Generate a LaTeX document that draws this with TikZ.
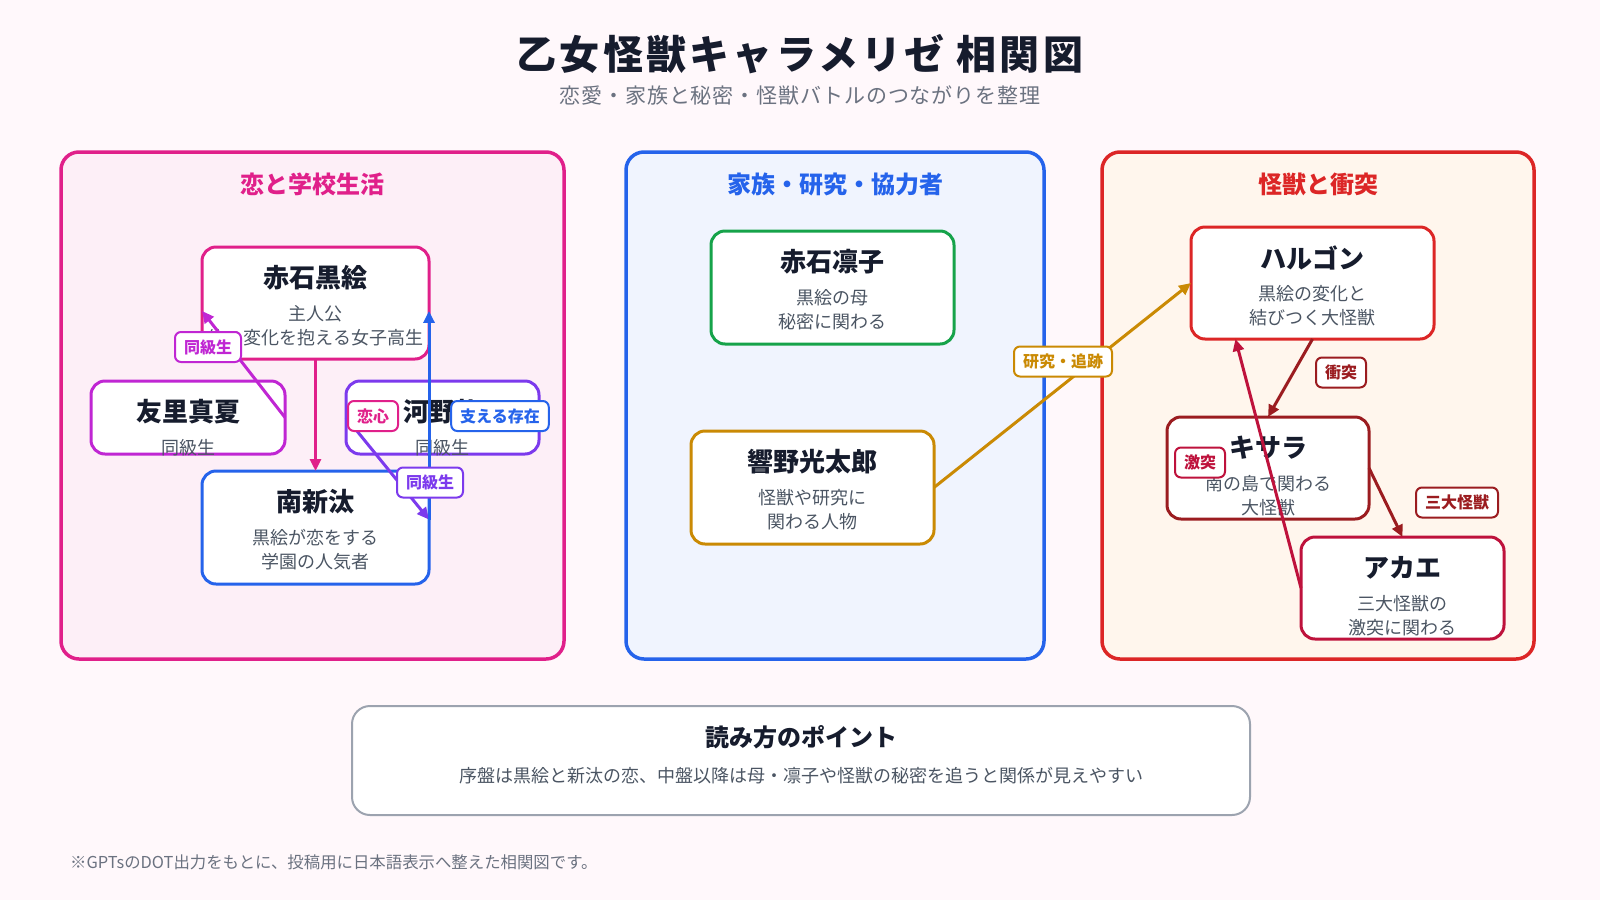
\documentclass[tikz,border=0pt]{standalone}
\usepackage{fontspec}
\setmainfont{Noto Sans CJK JP}
\newfontfamily\titelschrift{Noto Sans CJK JP}[LetterSpace=8]
\newfontfamily\unterschrift{Noto Sans CJK JP}[LetterSpace=4]
\usetikzlibrary{arrows.meta}
\definecolor{hintergrund}{RGB}{255,248,251}
\definecolor{rosa}{RGB}{224,32,138}
\definecolor{lila}{RGB}{192,38,211}
\definecolor{violett}{RGB}{124,58,237}
\definecolor{blau}{RGB}{37,99,235}
\definecolor{gruen}{RGB}{22,163,74}
\definecolor{gold}{RGB}{202,138,4}
\definecolor{rot}{RGB}{220,38,38}
\definecolor{dunkelrot}{RGB}{155,28,32}
\definecolor{karmin}{RGB}{190,18,60}
\definecolor{tinte}{RGB}{22,28,45}
\definecolor{textgrau}{RGB}{75,85,99}
\definecolor{hellgrau}{RGB}{107,114,128}
\definecolor{randgrau}{RGB}{156,163,175}
\tikzset{%
		gruppe/.style={line width=3.5pt,rounded corners=18pt},
		gruppentitel/.style={font=\bfseries\fontsize{24}{24}\selectfont},
		figur/.style={draw,line width=3pt,rounded corners=14pt,fill=white,inner sep=0pt,outer sep=0pt},
		rufname/.style={text=tinte,font=\bfseries\fontsize{26}{26}\selectfont},
		zeile/.style={text=textgrau,font=\fontsize{18}{18}\selectfont},
		marke/.style={draw=#1,text=#1,fill=white,line width=2pt,rounded corners=6pt,font=\bfseries\fontsize{16}{16}\selectfont,inner xsep=9pt,inner ysep=0pt,minimum height=30pt},
		pfeil/.style={draw=#1,line width=3pt,-{Triangle[length=12pt,width=11pt]}}
	}
\newcommand{\figur}[9]{
		\node[figur,draw=#2,minimum width=#5pt,minimum height=#6pt] (#1) at (#3,#4) {};
		\node[rufname] (#1-name) at ([yshift=-31pt]#1.north) {#7};
		\node[zeile] (#1-z1) at ([yshift=-66.5pt]#1.north) {#8};
		\node[zeile] (#1-z2) at ([yshift=-90.5pt]#1.north) {#9};
	}

\begin{document}
\begin{tikzpicture}[x=1pt,y=-1pt]
      \fill[hintergrund] (0,0) rectangle (1600,900);
      \node[text=tinte,font=\titelschrift\bfseries\fontsize{40}{40}\selectfont] (titel) at (800,54) {乙女怪獣キャラメリゼ 相関図};
      \node[text=hellgrau,font=\unterschrift\fontsize{21}{21}\selectfont] (untertitel) at (800,96) {恋愛・家族と秘密・怪獣バトルのつながりを整理};

      \begin{scope}
        \filldraw[gruppe,draw=rosa,fill=rosa!7] (61,152) rectangle (564,659);
        \node[gruppentitel,text=rosa] (schule) at (312.5,184) {恋と学校生活};
      \end{scope}
      \begin{scope}
        \filldraw[gruppe,draw=blau,fill=blau!7] (626,152) rectangle (1044,659);
        \node[gruppentitel,text=blau] (familie) at (835,184) {家族・研究・協力者};
      \end{scope}
      \begin{scope}
        \filldraw[gruppe,draw=rot,fill=orange!7] (1102,152) rectangle (1534,659);
        \node[gruppentitel,text=rot] (kaiju) at (1318,184) {怪獣と衝突};
      \end{scope}

      \figur{kuroe}{rosa}{315.5}{303}{227}{112}{赤石黒絵}{主人公}{体の変化を抱える女子高生}
      \figur{manatsu}{lila}{188}{417.5}{194}{73}{友里真夏}{同級生}{}
      \figur{kono}{violett}{442.5}{417.5}{193}{73}{河野礼}{同級生}{}
      \figur{arata}{blau}{315.5}{527.5}{227}{113}{南新汰}{黒絵が恋をする}{学園の人気者}
      \figur{rinko}{gruen}{832.5}{287.5}{243}{113}{赤石凛子}{黒絵の母}{秘密に関わる}
      \figur{kotaro}{gold}{812.5}{487.5}{243}{113}{響野光太郎}{怪獣や研究に}{関わる人物}
      \figur{halgon}{rot}{1312.5}{283}{243}{112}{ハルゴン}{黒絵の変化と}{結びつく大怪獣}
      \figur{kisara}{dunkelrot}{1268}{468}{202}{102}{キサラ}{南の島で関わる}{大怪獣}
      \figur{akae}{karmin}{1402.5}{588}{203}{102}{アカエ}{三大怪獣の}{激突に関わる}

      \draw[pfeil=lila] (manatsu.east) -- (kuroe.184);
      \draw[pfeil=rosa] (kuroe.south) -- (arata.north);
      \draw[pfeil=violett] (kono.west) -- (arata.4);
      \draw[pfeil=blau] (arata.4) -- (kuroe.-4);
      \draw[pfeil=gold] (kotaro.east) -- (halgon.west);
      \draw[pfeil=dunkelrot] (halgon.south) -- (kisara.north);
      \draw[pfeil=dunkelrot] (kisara.east) -- (akae.north);
      \draw[pfeil=karmin] (akae.west) -- (halgon.216);

      \node[marke=lila] (m-manatsu) at (208,347) {同級生};
      \node[marke=rosa] (m-koi) at (373,416) {恋心};
      \node[marke=blau] (m-stuetze) at (500,416) {支える存在};
      \node[marke=violett] (m-kono) at (430,482.5) {同級生};
      \node[marke=gold] (m-forschung) at (1063,361.5) {研究・追跡};
      \node[marke=dunkelrot] (m-konflikt) at (1341,372.5) {衝突};
      \node[marke=dunkelrot] (m-drei) at (1457,502.5) {三大怪獣};
      \node[marke=karmin] (m-kampf) at (1200,462.5) {激突};

      \filldraw[draw=randgrau,fill=white,line width=2pt,rounded corners=18pt] (352,706) rectangle (1250,815);
      \node[text=tinte,font=\bfseries\fontsize{24}{24}\selectfont] (lesart) at (801,737) {読み方のポイント};
      \node[text=textgrau,font=\fontsize{18}{18}\selectfont] (lesart-text) at (801,776) {序盤は黒絵と新汰の恋、中盤以降は母・凛子や怪獣の秘密を追うと関係が見えやすい};
      \node[anchor=west,text=hellgrau,font=\fontsize{16.4}{16.4}\selectfont,inner sep=0pt] (fussnote) at (70,862) {※GPTsのDOT出力をもとに、投稿用に日本語表示へ整えた相関図です。};
\end{tikzpicture}
\end{document}
